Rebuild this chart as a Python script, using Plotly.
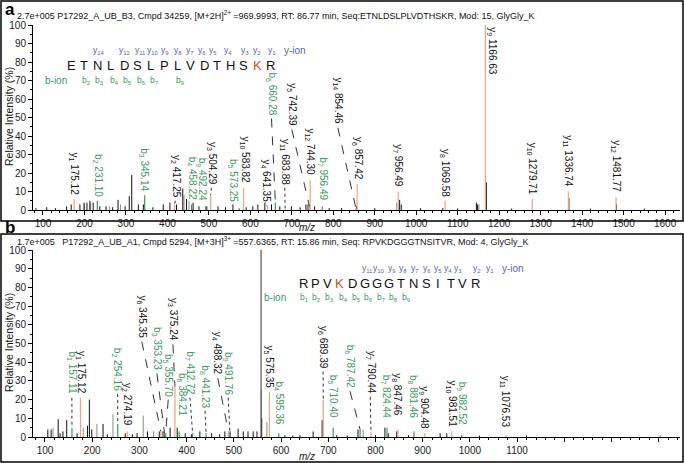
import plotly.graph_objects as go

W, H = 684, 463

# ---------------- panel a data ----------------
a_title = ("2.7e+005 P17292_A_UB_B3, Cmpd 34259, [M+2H]<sup>2+</sup> =969.9993, RT: 86.77 min, "
           "Seq:ETNLDSLPLVDTHSKR, Mod: 15, GlyGly_K")
a_seq = "ETNLDSLPLVDTHSKR"
a_mod_idx = 14
a_y_ions = [14, 12, 11, 10, 9, 8, 7, 6, 5, 4, 3, 2, 1]
a_b_ions = [2, 3, 4, 5, 6, 7, 9]

a_black_mz = [83, 109, 130, 157, 168, 189, 199, 206, 213, 221, 237, 252, 268, 281, 298, 308, 314,
              330, 342, 365, 390, 406, 422, 437, 446, 462, 476, 495, 522, 540, 558, 590, 606, 618,
              635, 651, 671, 699, 720, 734, 739, 755, 790, 820, 856, 900, 960, 964, 1010, 1064,
              1100, 1145, 1148, 1169, 1230, 1368, 1420, 1483, 1550]
a_black_int = [1, 1.5, 1, 2, 3, 3, 4, 4, 5, 4, 2, 2, 1.5, 5.5, 2, 7.5, 19,
               3, 3, 1.5, 3, 4, 3, 11.5, 6, 4, 2, 2, 2, 1.5, 3, 1.5, 2, 3,
               4, 3, 2, 2, 1.5, 3, 3, 2, 1, 1, 2, 1, 5.5, 3, 1, 1,
               0.8, 4, 3, 15, 0.8, 6.5, 0.8, 3, 0.8]
a_gray_mz = [200, 215, 260, 287, 440, 452, 953, 1151]
a_gray_int = [3, 4, 2, 3, 8, 5, 4, 3]

a_ion_mz = [175.12, 231.10, 345.14, 417.25, 458.22, 492.24, 504.29, 573.25, 583.82, 641.35,
            660.28, 683.88, 742.39, 744.30, 773.36, 854.46, 857.42, 956.49, 1069.58, 1166.63,
            1279.71, 1366.74, 1481.77]
a_ion_int = [6, 5, 8, 3, 3, 2, 8, 1, 12, 2,
             4, 1, 2, 16, 2, 1, 14, 10, 5, 100,
             6, 10, 7]
a_ion_name = ['y1', 'b2', 'b3', 'y2', 'b4', 'b9', 'y3', 'b5', 'y10', 'y4',
              'b6', 'y11', 'y5', 'y12', 'b7', 'y14', 'y6', 'y7', 'y8', 'y9',
              'y10', 'y11', 'y12']
# label texts as printed in the reference
a_ion_text = ['175.12', '231.10', '345.14', '417.25', '458.22', '492.24', '504.29', '573.25',
              '583.82', '641.35', '660.28', '683.88', '742.39', '744.30', '956.49', '854.46',
              '857.42', '956.49', '1069.58', '1166.63', '1279.71', '1336.74', '1481.77']
# where each label sits (m/z, % of the label foot) and how it is tied to its peak
a_lab_mz = [175, 231, 345, 419, 458, 482, 506, 558, 587, 639,
            651, 683, 700, 743, 775, 811, 859, 956, 1069, 1182,
            1280, 1367, 1482]
a_lab_y = [7, 6, 9, 5.5, 4.5, 4, 12.5, 3, 13, 3,
           50, 12.5, 44, 17.5, 4, 45, 15, 11, 6, 100,
           7, 11, 8.5]
a_lab_link = ['', '', '', 'dot', '', '', 'dot', '', '', 'dot',
              'dash', 'dot', 'dash', '', '', 'dash', '', '', '', '',
              '', '', '']

# ---------------- panel b data ----------------
b_title = ("1.7e+005   P17292_A_UB_A1, Cmpd 5294, [M+3H]<sup>3+</sup> =557.6365, RT: 15.86 min, "
           "Seq: RPVKDGGGTNSITVR, Mod: 4, GlyGly_K")
b_seq = "RPVKDGGGTNSITVR"
b_mod_idx = 3
b_y_ions = [11, 10, 9, 8, 7, 6, 5, 4, 3, 2, 1]
b_b_ions = [1, 2, 3, 4, 5, 6, 7, 8, 9]

b_black_mz = [106, 113, 128, 132, 138, 146, 168, 190, 194, 199, 223, 232, 270, 285, 295, 317, 342,
              350, 365, 380, 397, 410, 428, 453, 470, 481, 492, 509, 520, 530, 541, 549, 559, 608,
              625, 640, 668, 687, 718, 740, 763, 800, 820, 827, 845, 870, 937, 951, 1020, 1120]
b_black_int = [4, 4, 9.5, 2, 3, 9, 2, 6, 20, 4, 7, 1.5, 2, 1.5, 2, 3, 3,
               3, 5, 5, 2, 1.5, 3, 2, 1.5, 3, 3, 4.5, 3, 3, 3, 3, 10, 1,
               0.8, 1, 3, 9, 1, 0.8, 4, 1, 5, 2, 3, 1, 2, 2, 0.8, 0.8]
b_gray_mz = [117, 181, 210, 244, 308, 330, 558.2, 570, 774, 1403]
b_gray_int = [5, 5, 7, 12, 11.5, 3, 25, 8, 4, 1]
b_base_mz = [557.64]
b_base_int = [100]

b_ion_mz = [157.11, 175.12, 254.16, 274.19, 345.35, 353.23, 355.70, 375.24, 384.21, 412.72,
            441.23, 488.32, 491.76, 575.35, 595.36, 689.39, 710.40, 767.42, 790.44, 824.44,
            847.46, 881.46, 904.48, 961.51, 982.52, 1076.53]
b_ion_int = [5, 21, 7, 3, 3, 2, 2, 27, 3, 2,
             2, 3, 2, 24, 2, 20, 5, 4, 3, 5,
             4, 3, 2, 3, 1, 1]
b_ion_name = ['b1', 'y1', 'b2', 'y2', 'y6', 'b3', 'b5', 'y3', 'b6', 'b7',
              'b8', 'y4', 'b9', 'y5', 'b4', 'y6', 'b5', 'b6', 'y7', 'b7',
              'y8', 'b8', 'y9', 'y10', 'b9', 'y11']
# label texts as printed in the reference
b_ion_text = ['157.11', '175.12', '254.16', '274.19', '345.35', '353.23', '355.70', '375.24',
              '384.21', '412.72', '441.23', '488.32', '491.76', '575.35', '595.36', '689.39',
              '710.40', '787.42', '790.44', '824.44', '847.46', '881.46', '904.48', '981.51',
              '982.52', '1076.53']
b_lab_mz = [157, 175, 254, 274, 305, 337, 361, 371, 390, 407,
            439, 466, 488, 575, 595, 689, 710, 746, 789, 824,
            847, 881, 904, 961, 982, 1076]
b_lab_y = [21.5, 22, 23.5, 5, 51.5, 34.5, 20.5, 50, 10, 21.5,
           14.5, 32, 21.5, 25, 5.5, 35.5, 9, 25, 22, 9,
           10, 9, 3, 4, 5.5, 4]
b_lab_link = ['dot', '', 'dot', '', 'dash', 'dash', 'dash', 'dash', '', 'dot',
              'dot', 'dash', 'dot', '', '', 'dot', '', 'dash', 'dot', '',
              '', '', '', '', '', '']

# pixel layout of the sequence keys (letters row, then y and b label rows)
a_key = dict(x0=71, dx=13.3, row=66,
             y_px=[99, 124, 140, 153, 165, 178, 190, 202, 213, 228, 245, 257, 272], y_ion_px=295,
             b_px=[86, 99, 114, 127, 141, 154, 180], b_ion_px=56)
b_key = dict(x0=303, dx=12.3, row=283,
             y_px=[367, 379, 392, 403, 415, 427, 438, 448, 458, 477, 490], y_ion_px=513,
             b_px=[304, 316, 329, 343, 356, 368, 381, 393, 406], b_ion_px=275)

FONT = "Liberation Sans, Arial, sans-serif"
ORANGE = '#f2a17f'
GREEN = '#3a9a5c'
BLUE = '#5b62b3'
KRED = '#c8502a'


def px(x):
    return x / W


def py(y):
    return 1 - y / H


def sub(name):
    return f"{name[0]}<sub>{name[1:]}</sub>"


def stems(mz, inten):
    xs, ys = [], []
    for m, v in zip(mz, inten):
        xs += [m, m, None]
        ys += [0, v, None]
    return xs, ys


fig = go.Figure()
annotations = []
shapes = []


def note(x, y, text, size, color, **kw):
    d = dict(x=px(x), y=py(y), xref='paper', yref='paper', text=text, showarrow=False,
             xanchor='center', yanchor='middle', font=dict(family=FONT, size=size, color=color))
    d.update(kw)
    annotations.append(d)


def add_panel(xa, ya, black_mz, black_int, gray_mz, gray_int, ion_mz, ion_int, ion_name, ion_text,
              lab_mz, lab_y, lab_link, extra=None):
    xr, yr = xa.replace('axis', ''), ya.replace('axis', '')
    for mz, inten, col in [(gray_mz, gray_int, '#8a8a8a'), (black_mz, black_int, '#111111')]:
        xs, ys = stems(mz, inten)
        fig.add_trace(go.Scatter(x=xs, y=ys, mode='lines', line=dict(color=col, width=1),
                                 xaxis=xr, yaxis=yr, hoverinfo='skip', showlegend=False))
    if extra:
        xs, ys = stems(*extra)
        fig.add_trace(go.Scatter(x=xs, y=ys, mode='lines', line=dict(color='#555555', width=1.2),
                                 xaxis=xr, yaxis=yr, hoverinfo='skip', showlegend=False))
    for kind, col in [('y', ORANGE), ('b', GREEN)]:
        sel = [i for i, n in enumerate(ion_name) if n[0] == kind]
        xs, ys = stems([ion_mz[i] for i in sel], [ion_int[i] for i in sel])
        fig.add_trace(go.Scatter(x=xs, y=ys, mode='lines', line=dict(color=col, width=1.2),
                                 xaxis=xr, yaxis=yr, hoverinfo='skip', showlegend=False))
    for i, n in enumerate(ion_name):
        col = GREEN if n[0] == 'b' else '#111111'
        top = lab_y[i] >= 100
        annotations.append(dict(
            x=lab_mz[i], y=lab_y[i], xref=xr, yref=yr, text=f"{sub(n)} {ion_text[i]}",
            textangle=90, showarrow=False, xanchor='center',
            yanchor='top' if top else 'bottom',
            font=dict(family=FONT, size=10, color=col)))
        if lab_link[i]:
            shapes.append(dict(type='line', xref=xr, yref=yr, x0=lab_mz[i], y0=lab_y[i] - 0.5,
                               x1=ion_mz[i], y1=ion_int[i],
                               line=dict(color='#333333', width=1, dash=lab_link[i])))


add_panel('xaxis', 'yaxis', a_black_mz, a_black_int, a_gray_mz, a_gray_int, a_ion_mz, a_ion_int,
          a_ion_name, a_ion_text, a_lab_mz, a_lab_y, a_lab_link)
add_panel('xaxis2', 'yaxis2', b_black_mz, b_black_int, b_gray_mz, b_gray_int, b_ion_mz, b_ion_int,
          b_ion_name, b_ion_text, b_lab_mz, b_lab_y, b_lab_link, extra=(b_base_mz, b_base_int))


def add_sequence(seq, mod_idx, y_ions, b_ions, key):
    yrow = key['row']
    for i, ch in enumerate(seq):
        note(key['x0'] + i * key['dx'], yrow, ch, 13, KRED if i == mod_idx else '#111111')
    for k, xp in zip(y_ions, key['y_px']):
        note(xp, yrow - 15, sub(f"y{k}"), 8.5, BLUE)
    note(key['y_ion_px'], yrow - 15, 'y-ion', 10, BLUE)
    for k, xp in zip(b_ions, key['b_px']):
        note(xp, yrow + 14, sub(f"b{k}"), 8.5, GREEN)
    note(key['b_ion_px'], yrow + 14, 'b-ion', 10, GREEN)


add_sequence(a_seq, a_mod_idx, a_y_ions, a_b_ions, a_key)
add_sequence(b_seq, b_mod_idx, b_y_ions, b_b_ions, b_key)

# titles, panel letters, axis titles
for txt, y in [(a_title, 15), (b_title, 241)]:
    note(15, y, txt, 9, '#111111', xanchor='left')
for txt, y in [('a', 9), ('b', 227)]:
    note(3, y, f"<b>{txt}</b>", 17, 'black', xanchor='left')
for y in [117, 343]:
    note(9, y, 'Relative Intensity (%)', 10.5, '#111111', textangle=-90)
for y in [227, 456]:
    note(307, y, '<i>m/z</i>', 10, '#111111')

# panel frames
for y0, y1 in [(1, 221), (234, 462)]:
    shapes.append(dict(type='rect', xref='paper', yref='paper', x0=px(1), x1=px(683), y0=py(y1), y1=py(y0),
                       line=dict(color='black', width=1.5)))

xcommon = dict(showline=True, linecolor='black', linewidth=1, ticks='outside', ticklen=4,
               tickcolor='black', showgrid=False, zeroline=False, automargin=False,
               ticklabeloverflow='allow',
               tickfont=dict(family=FONT, size=10, color='#222222'),
               minor=dict(ticks='outside', ticklen=2, dtick=20, tickcolor='black'))
ycommon = dict(showline=True, linecolor='black', linewidth=1, ticks='outside', ticklen=4,
               tickcolor='black', showgrid=False, zeroline=False, range=[0, 100], dtick=10,
               automargin=False, ticklabeloverflow='allow',
               tickfont=dict(family=FONT, size=10, color='#222222'),
               minor=dict(ticks='outside', ticklen=2, dtick=5, tickcolor='black'))

fig.update_layout(
    width=W, height=H, margin=dict(l=0, r=0, t=0, b=0, pad=0),
    paper_bgcolor='white', plot_bgcolor='white',
    xaxis=dict(xcommon, domain=[px(33), px(680)], range=[75.9, 1636], dtick=100, tick0=0,
               anchor='y'),
    yaxis=dict(ycommon, domain=[py(210), py(25)], anchor='x'),
    xaxis2=dict(xcommon, domain=[px(33), px(680)], range=[74.6, 1445], tickmode='array',
                tickvals=list(range(100, 1500, 100)),
                ticktext=[str(v) if v <= 1100 else '' for v in range(100, 1500, 100)], anchor='y2'),
    yaxis2=dict(ycommon, domain=[py(437), py(250)], anchor='x2'),
    annotations=annotations,
    shapes=shapes,
)

# the page body has a default 8px margin; drop it so the figure sits at the window corner
fig.write_html("out.html", config={'displayModeBar': False},
               post_script="document.body.style.margin='0px';")
